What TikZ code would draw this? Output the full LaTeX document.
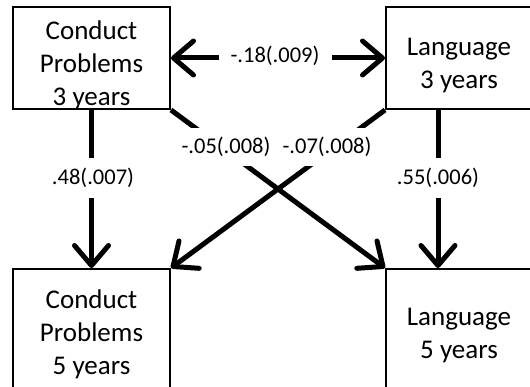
\documentclass[tikz,border=0pt]{standalone}
\usepackage{fontspec}
\setmainfont{Carlito}
\usetikzlibrary{arrows.meta,calc}
\begin{document}
\begin{tikzpicture}[x=1pt,y=-1pt,
  box/.style={draw=black,line width=2pt,inner sep=0pt},
  boxtext/.style={align=center,inner sep=0pt,font=\fontsize{27}{33}\selectfont},
  arr/.style={line width=5pt,-{Straight Barb[length=20pt,width=34pt,round]}},
  darr/.style={line width=5pt,{Straight Barb[length=20pt,width=34pt,round]}-{Straight Barb[length=20pt,width=34pt,round]}},
  lab/.style={fill=white,inner sep=0pt,font=\fontsize{22.5}{26}\selectfont}]
\useasboundingbox (0,0) rectangle (530,387);
\node[box,minimum width=157pt,minimum height=102pt,
  label={[boxtext,yshift=-7pt]center:Conduct\\Problems\\3 years}] (tl) at (91.5,58) {};
\node[box,minimum width=146pt,minimum height=102pt,
  label={[boxtext,yshift=-8pt]center:Language\\3 years}] (tr) at (459,58) {};
\node[box,minimum width=157pt,minimum height=126pt,
  label={[boxtext,yshift=-2pt]center:Conduct\\Problems\\5 years}] (bl) at (91.5,332) {};
\node[box,minimum width=146pt,minimum height=126pt,
  label={[boxtext,yshift=-4pt]center:Language\\5 years}] (br) at (459,332) {};
\coordinate (rx) at (438,0);
% connectors
\draw[darr] (tl.east) -- (tr.west);
\draw[arr] (tl.south) -- (bl.north);
\draw[arr] (tr.south -| rx) -- (br.north -| rx);
\draw[arr] (tl.south east) -- (br.north west);
\draw[arr] (tr.south west) -- (bl.north east);
% labels
\node[lab,minimum width=113pt,minimum height=20pt] (l18) at (275,56) {-.18(.009)};
\node[lab,minimum width=70pt,minimum height=40pt] (l48) at (93,178) {.48(.007)};
\node[lab,minimum width=70pt,minimum height=40pt] (l55) at (438,178) {.55(.006)};
\node[lab,minimum width=86pt,minimum height=38pt] (l05) at (226,147) {-.05(.008)};
\node[lab,minimum width=86pt,minimum height=38pt] (l07) at (327,147) {-.07(.008)};
\end{tikzpicture}
\end{document}
